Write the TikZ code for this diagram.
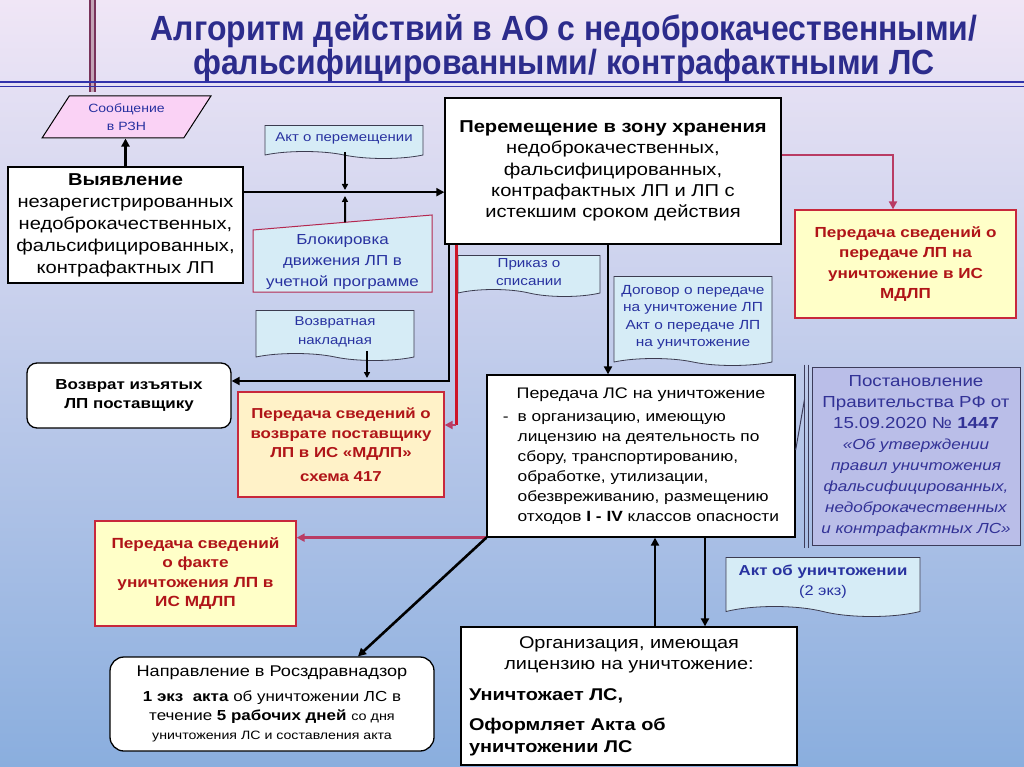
\documentclass[tikz,border=0pt]{standalone}
\usepackage{fontspec}
\setmainfont{Liberation Sans}[FakeStretch=1.17]
\usetikzlibrary{arrows.meta,shapes.geometric,shapes.symbols,calc}
\definecolor{bgtop}{RGB}{240,230,246}
\definecolor{bgmid}{RGB}{202,200,236}
\definecolor{bgbot}{RGB}{138,174,222}
\definecolor{titleblue}{RGB}{44,44,140}
\definecolor{docblue}{RGB}{40,50,160}
\definecolor{docfill}{RGB}{214,236,246}
\definecolor{docline}{RGB}{60,60,80}
\definecolor{pinkfill}{RGB}{250,210,245}
\definecolor{boxred}{RGB}{200,40,60}
\definecolor{txtred}{RGB}{176,20,24}
\definecolor{yel}{RGB}{255,255,200}
\definecolor{peach}{RGB}{255,242,200}
\definecolor{linered}{RGB}{185,60,100}
\definecolor{brightred}{RGB}{205,20,40}
\definecolor{blkline}{RGB}{180,40,80}
\definecolor{ppfill}{RGB}{186,190,232}
\definecolor{ppline}{RGB}{60,60,90}
\definecolor{pptext}{RGB}{50,50,150}
\definecolor{decmaroon}{RGB}{120,50,90}
\definecolor{decblue}{RGB}{50,50,170}
\newcommand{\fs}[2]{\fontsize{#1}{#2}\selectfont}
\tikzset{
  base/.style={inner sep=0pt, align=center},
  wbox/.style={base, draw=black, fill=white, line width=1.3pt},
  rbox/.style={base, draw=boxred, line width=1.3pt, text=txtred},
  docshape/.style={base, tape, tape bend top=none, tape bend bottom=out and in,
    tape bend height=7pt, draw=docline, fill=docfill, line width=0.8pt, text=docblue},
  arr/.style={-{Triangle[length=8pt,width=8pt]}, line width=2.6pt},
  tarr/.style={-{Triangle[length=6pt,width=6pt]}, line width=1.6pt},
  rarr/.style={-{Triangle[length=8pt,width=8pt]}, line width=2.4pt, draw=linered}
}
\begin{document}
\begin{tikzpicture}[x=1pt,y=-1pt]
\useasboundingbox (0,0) rectangle (1024,767);
\shade[top color=bgtop, middle color=bgmid, bottom color=bgbot] (0,0) rectangle (1024,767);
% decorations
\fill[decmaroon!45] (90,0) rectangle (95,92);
\draw[decmaroon, line width=1.2pt] (90,0) -- (90,92) (95,0) -- (95,92);
\draw[decblue, line width=1.5pt] (0,82) -- (1024,82) (0,86.5) -- (1024,86.5);
% title
\node[text=titleblue, font=\bfseries\fs{35}{31}, align=center] (title) at (564,48)
 {\scalebox{0.78}[1]{Алгоритм действий в АО с недоброкачественными/}\\\scalebox{0.78}[1]{фальсифицированными/ контрафактными ЛС}};
% nodes
\node[trapezium, trapezium left angle=56, trapezium right angle=124, trapezium stretches=true,
  minimum width=169pt, minimum height=42pt, draw, fill=pinkfill, line width=1pt, inner sep=0pt,
  text=docblue, align=center, font=\fs{12}{18}] (rzn) at (126.5,117) {Сообщение\\в РЗН};
\node[wbox, minimum width=235pt, minimum height=116pt, font=\fs{17.2}{22}] (V) at (125.5,225)
 {\textbf{Выявление}\\незарегистрированных\\недоброкачественных,\\фальсифицированных,\\контрафактных ЛП};
\node[docshape, minimum width=158pt, minimum height=33pt, font=\fs{12.8}{15}] (akt) at (344,138.5) {Акт о перемещении};
\coordinate (b1) at (253,230);
\coordinate (b2) at (432,215);
\coordinate (b3) at (432,292);
\coordinate (b4) at (253,292);
\draw[fill=docfill, draw=blkline, line width=1pt] (b1) -- (b2) -- (b3) -- (b4) -- cycle;
\node[base, text=docblue, font=\fs{14.5}{21}] (blk) at (342.5,262) {Блокировка\\движения ЛП в\\учетной программе};
\node[wbox, minimum width=336pt, minimum height=146pt, font=\fs{17.2}{21.3}] (M) at (613,171)
 {\textbf{Перемещение в зону хранения}\\недоброкачественных,\\фальсифицированных,\\контрафактных ЛП и ЛП с\\истекшим сроком действия};
\node[rbox, fill=yel, minimum width=221pt, minimum height=108pt, font=\bfseries\fs{14.6}{20.5}] (R1) at (905.5,264)
 {Передача сведений о\\передаче ЛП на\\уничтожение в ИС\\МДЛП};
\node[docshape, minimum width=142pt, minimum height=41pt, font=\fs{13}{18}] (prk) at (529,272.5) {Приказ о\\списании};
\node[docshape, minimum width=158pt, minimum height=89pt, font=\fs{13.2}{17.5}] (dog) at (693,317.5)
 {Договор о передаче\\на уничтожение ЛП\\Акт о передаче ЛП\\на уничтожение};
\node[docshape, minimum width=158pt, minimum height=50pt, font=\fs{12.8}{19}] (vn) at (335,332) {Возвратная\\накладная};
\node[wbox, rounded corners=10pt, minimum width=204pt, minimum height=65pt, font=\bfseries\fs{14.5}{19.5}] (Vz) at (129,395.5)
 {Возврат изъятых\\ЛП поставщику};
\node[rbox, fill=peach, minimum width=206pt, minimum height=105pt, font=\bfseries\fs{14.4}{19.5}] (R2) at (341,444.5)
 {Передача сведений о\\возврате поставщику\\ЛП в ИС «МДЛП»\\[4pt]схема 417};
\node[wbox, minimum width=308pt, minimum height=162pt, font=\fs{14.8}{20}] (PL) at (641,456)
 {\begin{tabular}{@{}l@{\hspace{9pt}}l@{}}
  \multicolumn{2}{c}{\fs{15.3}{20}Передача ЛС на уничтожение}\\[3pt]
  - & в организацию, имеющую\\
     & лицензию на деятельность по\\
     & сбору, транспортированию,\\
     & обработке, утилизации,\\
     & обезвреживанию, размещению\\
     & отходов \textbf{I - IV} классов опасности
 \end{tabular}};
\node[base, draw=ppline, fill=ppfill, line width=1pt, text=pptext, minimum width=208pt, minimum height=178pt, font=\fs{16}{21}] (PP) at (916,456)
 {Постановление\\Правительства РФ от\\15.09.2020 № \textbf{1447}\\{\fs{14.6}{21}\itshape «Об утверждении}\\{\fs{14.6}{21}\itshape правил уничтожения}\\{\fs{14.6}{21}\itshape фальсифицированных,}\\{\fs{14.6}{21}\itshape недоброкачественных}\\{\fs{14.6}{21}\itshape и контрафактных ЛС»}};
\draw[ppline, line width=1pt] ([shift={(-7pt,2pt)}]PP.north west) -- ([shift={(-7pt,-2pt)}]PP.south west)
  ([shift={(-3pt,2pt)}]PP.north west) -- ([shift={(-3pt,-2pt)}]PP.south west);
\draw[ppline, line width=1pt] ([yshift=6pt]PL.east) -- ([shift={(-7pt,-33pt)}]PP.north west);
\node[docshape, tape bend height=10pt, minimum width=194pt, minimum height=59pt, font=\fs{14}{20}] (aku) at (823,582)
 {\textbf{\fs{14.4}{20}Акт об уничтожении}\\(2 экз)};
\node[wbox, minimum width=336pt, minimum height=138pt, font=\fs{17}{21.5}] (ORG) at (629,696)
 {Организация, имеющая\\лицензию на уничтожение:\\[9pt]
  \makebox[320pt][l]{\textbf{Уничтожает ЛС,}}\\[9pt]
  \makebox[320pt][l]{\textbf{Оформляет Акта об}}\\
  \makebox[320pt][l]{\textbf{уничтожении ЛС}}};
\node[rbox, fill=yel, minimum width=201pt, minimum height=105pt, font=\bfseries\fs{14.7}{19.5}] (R3) at (195.5,573.5)
 {Передача сведений\\о факте\\уничтожения ЛП в\\ИС МДЛП};
\node[wbox, rounded corners=14pt, minimum width=324pt, minimum height=94pt, font=\fs{14.5}{19}] (NAP) at (272,704)
 {{\fs{15.5}{19}Направление в Росздравнадзор}\\[6pt]
  \textbf{1 экз\ \ акта} об уничтожении ЛС в\\
  течение \textbf{5 рабочих дней} {\fs{12.3}{16}со дня}\\
  {\fs{12.1}{18}уничтожения ЛС и составления акта}};
% connectors
\draw[arr] (V.north) -- (V.north |- rzn.south);
\coordinate (h1) at ($(V.north east)!0.22!(V.south east)$);
\draw[arr] (h1) -- (h1 -| M.west);
\coordinate (j1) at (345,193);
\draw[tarr] (akt.south -| j1) -- ([yshift=3pt]j1);
\coordinate (b12) at ($(b1)!0.514!(b2)$);
\draw[tarr, line width=2pt] (b12) -- ([yshift=-3pt]j1);
\draw[rarr] ($(M.north east)!0.39!(M.south east)$) -| ([xshift=-12.5pt]R1.north);
\draw[arr] ([xshift=-5pt]M.south) -- ([xshift=-33pt]PL.north);
\coordinate (c1) at (449,381);
\draw[arr] (M.south -| c1) -- (c1) -- (c1 -| Vz.east);
\coordinate (c2) at (456,425);
\draw[brightred, line width=3pt] (M.south -| c2) -- (c2);
\draw[rarr] (c2) -- (c2 -| R2.east);
\coordinate (vnb) at (367,351);
\draw[tarr] (vnb) -- ([yshift=3pt]c1 -| vnb);
\coordinate (u1) at (655,0);
\coordinate (d1) at (705,0);
\draw[arr] (ORG.north -| u1) -- (PL.south -| u1);
\draw[arr] (PL.south -| d1) -- (ORG.north -| d1);
\draw[rarr] (PL.south west) -- (PL.south west -| R3.east);
\draw[arr] (PL.south west) -- ([xshift=86pt]NAP.north);
\end{tikzpicture}
\end{document}
